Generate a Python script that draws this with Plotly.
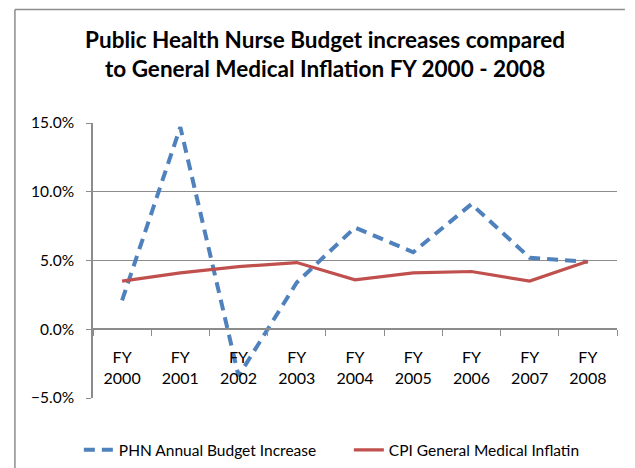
import plotly.graph_objects as go

years = ["FY<br>2000", "FY<br>2001", "FY<br>2002", "FY<br>2003", "FY<br>2004",
         "FY<br>2005", "FY<br>2006", "FY<br>2007", "FY<br>2008"]
phn_budget = [2.1, 14.7, -3.4, 3.4, 7.4, 5.6, 9.1, 5.2, 4.9]
cpi_medical = [3.5, 4.1, 4.55, 4.85, 3.6, 4.1, 4.2, 3.5, 4.95]

font_family = "Lato, 'Open Sans', sans-serif"
frame_col = "#8C8C8C"

fig = go.Figure()

fig.add_trace(go.Scatter(
    x=years, y=phn_budget, mode="lines",
    name="PHN Annual Budget Increase",
    line=dict(color="#4F81BD", width=4, dash="11px,7px")
))
fig.add_trace(go.Scatter(
    x=years, y=cpi_medical, mode="lines",
    name="CPI General Medical Inflatin",
    line=dict(color="#C0504D", width=3.2)
))

# outer chart frame (top and left edges)
fig.add_shape(type="line", xref="paper", yref="paper",
              x0=-0.149, x1=1.015, y0=1.413, y1=1.413,
              line=dict(color=frame_col, width=1.5))
fig.add_shape(type="line", xref="paper", yref="paper",
              x0=-0.149, x1=-0.149, y0=1.413, y1=-0.3,
              line=dict(color=frame_col, width=1.5))

fig.update_layout(
    width=635, height=468,
    margin=dict(l=93, r=18, t=123, b=70, autoexpand=False),
    paper_bgcolor="white", plot_bgcolor="white",
    font=dict(family=font_family, size=16, color="black"),
    title=dict(
        text="<b>Public Health Nurse Budget increases compared<br>to General Medical Inflation FY 2000 - 2008</b>",
        x=0.512, xanchor="center", y=1 - 48 / 468, yanchor="middle",
        yref="container", font=dict(size=22.5, family=font_family)
    ),
    showlegend=True,
    legend=dict(orientation="h", x=-0.027, xanchor="left", y=-0.19, yanchor="middle",
                font=dict(size=15.5), itemwidth=30, tracegroupgap=0,
                entrywidthmode="pixels", entrywidth=225),
    xaxis=dict(
        type="category", anchor="free", position=0.25,
        showline=True, linecolor=frame_col, linewidth=1.5,
        ticks="outside", tickson="boundaries", ticklen=6, tickcolor=frame_col,
        showgrid=False, tickfont=dict(size=16), range=[-0.5, 8.5],
        ticklabelstandoff=14
    ),
    yaxis=dict(
        range=[-5, 15], dtick=5, tickformat=".1f", ticksuffix="%",
        showline=True, linecolor=frame_col, linewidth=1.5,
        ticks="outside", ticklen=5, tickcolor=frame_col,
        showgrid=True, gridcolor=frame_col, gridwidth=1, zeroline=False,
        tickfont=dict(size=15.5), ticklabelstandoff=9
    ),
)

# drop the default page margin so the figure sits at the window's corner
fig.write_html("out.html", config={"displayModeBar": False},
               post_script="document.body.style.margin='0';")
